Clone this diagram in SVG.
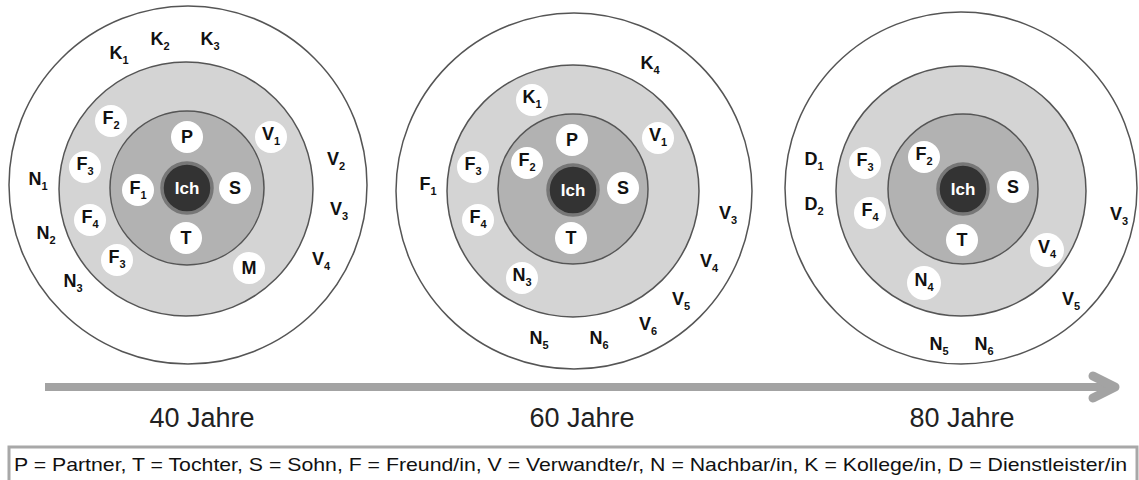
<svg xmlns="http://www.w3.org/2000/svg" width="1139" height="480" viewBox="0 0 1139 480">
<style>
.outer{fill:#fff;stroke:#555;stroke-width:1.5}
.mid{fill:#d4d4d4;stroke:#555;stroke-width:1.5}
.inn{fill:#b2b2b2;stroke:#555;stroke-width:1.5}
.ich{fill:#333;stroke:#777;stroke-width:3.5}
.ichT{font-family:"Liberation Sans",Arial,sans-serif;font-weight:bold;font-size:17px;fill:#fff;text-anchor:middle}
.nd{fill:#fff}
.lb{font-family:"Liberation Sans",Arial,sans-serif;font-weight:bold;font-size:18px;fill:#111;text-anchor:middle}
.sb{font-size:11px}
.age{font-family:"Liberation Sans",Arial,sans-serif;font-size:27px;fill:#222;text-anchor:middle}
.leg{font-family:"Liberation Sans",Arial,sans-serif;font-size:19px;fill:#111}
</style>
<rect width="1139" height="480" fill="#fff"/>

<g id="age40">
<circle class="outer" cx="188" cy="185" r="179"/>
<circle class="mid" cx="186" cy="189" r="127"/>
<circle class="inn" cx="187" cy="188" r="77"/>
<circle class="ich" cx="187" cy="188" r="25"/>
<text class="ichT" x="187" y="194">Ich</text>
<g id="n40-P"><circle class="nd" cx="187" cy="137" r="16"/><text class="lb" x="187" y="143">P</text></g>
<g id="n40-F1"><circle class="nd" cx="138" cy="190" r="16"/><text class="lb" x="138" y="194">F<tspan class="sb" dy="5">1</tspan></text></g>
<g id="n40-S"><circle class="nd" cx="235" cy="188" r="16"/><text class="lb" x="235" y="194">S</text></g>
<g id="n40-T"><circle class="nd" cx="186" cy="238" r="16"/><text class="lb" x="186" y="244">T</text></g>
<g id="n40-F2"><circle class="nd" cx="111" cy="121" r="16"/><text class="lb" x="111" y="124">F<tspan class="sb" dy="5">2</tspan></text></g>
<g id="n40-F3a"><circle class="nd" cx="85" cy="167" r="16"/><text class="lb" x="85" y="170">F<tspan class="sb" dy="5">3</tspan></text></g>
<g id="n40-F4"><circle class="nd" cx="90" cy="220" r="16"/><text class="lb" x="90" y="223">F<tspan class="sb" dy="5">4</tspan></text></g>
<g id="n40-F3b"><circle class="nd" cx="117" cy="260" r="16"/><text class="lb" x="117" y="263">F<tspan class="sb" dy="5">3</tspan></text></g>
<g id="n40-V1"><circle class="nd" cx="271" cy="137" r="16"/><text class="lb" x="271" y="140">V<tspan class="sb" dy="5">1</tspan></text></g>
<g id="n40-M"><circle class="nd" cx="249" cy="268" r="16"/><text class="lb" x="249" y="274">M</text></g>
<g id="l40-K1"><text class="lb" x="119" y="59">K<tspan class="sb" dy="5">1</tspan></text></g>
<g id="l40-K2"><text class="lb" x="160" y="45">K<tspan class="sb" dy="5">2</tspan></text></g>
<g id="l40-K3"><text class="lb" x="210" y="45">K<tspan class="sb" dy="5">3</tspan></text></g>
<g id="l40-N1"><text class="lb" x="38" y="185">N<tspan class="sb" dy="5">1</tspan></text></g>
<g id="l40-N2"><text class="lb" x="46" y="239">N<tspan class="sb" dy="5">2</tspan></text></g>
<g id="l40-N3"><text class="lb" x="73" y="287">N<tspan class="sb" dy="5">3</tspan></text></g>
<g id="l40-V2"><text class="lb" x="336" y="165">V<tspan class="sb" dy="5">2</tspan></text></g>
<g id="l40-V3"><text class="lb" x="339" y="215">V<tspan class="sb" dy="5">3</tspan></text></g>
<g id="l40-V4"><text class="lb" x="321" y="265">V<tspan class="sb" dy="5">4</tspan></text></g>
</g>

<g id="age60">
<circle class="outer" cx="574" cy="191" r="178"/>
<circle class="mid" cx="573" cy="191" r="126"/>
<circle class="inn" cx="573" cy="189" r="75"/>
<circle class="ich" cx="573" cy="190" r="25"/>
<text class="ichT" x="573" y="196">Ich</text>
<g id="n60-K1"><circle class="nd" cx="532" cy="100" r="16"/><text class="lb" x="532" y="103">K<tspan class="sb" dy="5">1</tspan></text></g>
<g id="n60-P"><circle class="nd" cx="572" cy="140" r="16"/><text class="lb" x="572" y="146">P</text></g>
<g id="n60-F2"><circle class="nd" cx="527" cy="163" r="16"/><text class="lb" x="527" y="166">F<tspan class="sb" dy="5">2</tspan></text></g>
<g id="n60-S"><circle class="nd" cx="623" cy="188" r="16"/><text class="lb" x="623" y="194">S</text></g>
<g id="n60-T"><circle class="nd" cx="571" cy="238" r="16"/><text class="lb" x="571" y="244">T</text></g>
<g id="n60-F3"><circle class="nd" cx="473" cy="167" r="16"/><text class="lb" x="473" y="170">F<tspan class="sb" dy="5">3</tspan></text></g>
<g id="n60-F4"><circle class="nd" cx="478" cy="220" r="16"/><text class="lb" x="478" y="223">F<tspan class="sb" dy="5">4</tspan></text></g>
<g id="n60-N3"><circle class="nd" cx="522" cy="278" r="16"/><text class="lb" x="522" y="281">N<tspan class="sb" dy="5">3</tspan></text></g>
<g id="n60-V1"><circle class="nd" cx="658" cy="138" r="16"/><text class="lb" x="658" y="141">V<tspan class="sb" dy="5">1</tspan></text></g>
<g id="l60-K4"><text class="lb" x="650" y="69">K<tspan class="sb" dy="5">4</tspan></text></g>
<g id="l60-F1"><text class="lb" x="428" y="190">F<tspan class="sb" dy="5">1</tspan></text></g>
<g id="l60-V3"><text class="lb" x="728" y="219">V<tspan class="sb" dy="5">3</tspan></text></g>
<g id="l60-V4"><text class="lb" x="709" y="267">V<tspan class="sb" dy="5">4</tspan></text></g>
<g id="l60-V5"><text class="lb" x="681" y="305">V<tspan class="sb" dy="5">5</tspan></text></g>
<g id="l60-V6"><text class="lb" x="648" y="330">V<tspan class="sb" dy="5">6</tspan></text></g>
<g id="l60-N5"><text class="lb" x="539" y="344">N<tspan class="sb" dy="5">5</tspan></text></g>
<g id="l60-N6"><text class="lb" x="599" y="344">N<tspan class="sb" dy="5">6</tspan></text></g>
</g>

<g id="age80">
<circle class="outer" cx="961" cy="188" r="176"/>
<circle class="mid" cx="961" cy="191" r="125"/>
<circle class="inn" cx="963" cy="189" r="75"/>
<circle class="ich" cx="963" cy="189" r="25"/>
<text class="ichT" x="963" y="195">Ich</text>
<g id="n80-F3"><circle class="nd" cx="865" cy="163" r="16"/><text class="lb" x="865" y="166">F<tspan class="sb" dy="5">3</tspan></text></g>
<g id="n80-F2"><circle class="nd" cx="924" cy="157" r="16"/><text class="lb" x="924" y="160">F<tspan class="sb" dy="5">2</tspan></text></g>
<g id="n80-S"><circle class="nd" cx="1013" cy="187" r="16"/><text class="lb" x="1013" y="193">S</text></g>
<g id="n80-F4"><circle class="nd" cx="870" cy="213" r="16"/><text class="lb" x="870" y="216">F<tspan class="sb" dy="5">4</tspan></text></g>
<g id="n80-T"><circle class="nd" cx="962" cy="240" r="16"/><text class="lb" x="962" y="246">T</text></g>
<g id="n80-V4"><circle class="nd" cx="1047" cy="250" r="17"/><text class="lb" x="1047" y="253">V<tspan class="sb" dy="5">4</tspan></text></g>
<g id="n80-N4"><circle class="nd" cx="924" cy="283" r="17"/><text class="lb" x="924" y="286">N<tspan class="sb" dy="5">4</tspan></text></g>
<g id="l80-D1"><text class="lb" x="814" y="165">D<tspan class="sb" dy="5">1</tspan></text></g>
<g id="l80-D2"><text class="lb" x="814" y="210">D<tspan class="sb" dy="5">2</tspan></text></g>
<g id="l80-V3"><text class="lb" x="1119" y="220">V<tspan class="sb" dy="5">3</tspan></text></g>
<g id="l80-V5"><text class="lb" x="1071" y="305">V<tspan class="sb" dy="5">5</tspan></text></g>
<g id="l80-N5"><text class="lb" x="939" y="350">N<tspan class="sb" dy="5">5</tspan></text></g>
<g id="l80-N6"><text class="lb" x="984" y="350">N<tspan class="sb" dy="5">6</tspan></text></g>
</g>

<g id="connectors">
<line x1="45" y1="387" x2="1112" y2="387" stroke="#a3a3a3" stroke-width="8"/>
<polyline points="1093,376 1115,387 1093,398" fill="none" stroke="#a3a3a3" stroke-width="9" stroke-linecap="round" stroke-linejoin="round"/>
</g>

<text class="age" x="202" y="427">40 Jahre</text>
<text class="age" x="582" y="427">60 Jahre</text>
<text class="age" x="962" y="427">80 Jahre</text>

<g id="legend">
<rect x="9" y="447" width="1128" height="40" fill="#fff" stroke="#a8a8a8" stroke-width="3"/>
<text class="leg" x="14" y="471" textLength="1113" lengthAdjust="spacingAndGlyphs">P = Partner, T = Tochter, S = Sohn, F = Freund/in, V = Verwandte/r, N = Nachbar/in, K = Kollege/in, D = Dienstleister/in</text>
</g>
</svg>
